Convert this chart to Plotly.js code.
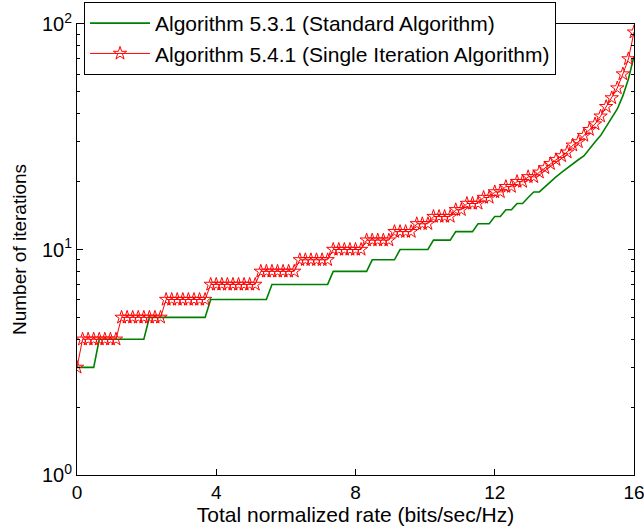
<!DOCTYPE html>
<html>
<head>
<meta charset="utf-8">
<script src="https://cdn.plot.ly/plotly-3.0.1.min.js"></script>
<style>html,body{margin:0;padding:0;background:#fff;}#chart{width:644px;height:531px;}</style>
</head>
<body>
<div id="chart"></div>
<script>
const rate = [0, 0.16, 0.32, 0.48, 0.64, 0.8, 0.96, 1.12, 1.28, 1.44,
  1.6, 1.76, 1.92, 2.08, 2.24, 2.4, 2.56, 2.72, 2.88, 3.04,
  3.2, 3.36, 3.52, 3.68, 3.84, 4.0, 4.16, 4.32, 4.48, 4.64,
  4.8, 4.96, 5.12, 5.28, 5.44, 5.6, 5.76, 5.92, 6.08, 6.24,
  6.4, 6.56, 6.72, 6.88, 7.04, 7.2, 7.36, 7.52, 7.68, 7.84,
  8.0, 8.16, 8.32, 8.48, 8.64, 8.8, 8.96, 9.12, 9.28, 9.44,
  9.6, 9.76, 9.92, 10.08, 10.24, 10.4, 10.56, 10.72, 10.88, 11.04,
  11.2, 11.36, 11.52, 11.68, 11.84, 12.0, 12.16, 12.32, 12.48, 12.64,
  12.8, 12.96, 13.12, 13.28, 13.44, 13.6, 13.76, 13.92, 14.08, 14.24,
  14.4, 14.56, 14.72, 14.88, 15.04, 15.2, 15.36, 15.52, 15.68, 15.84, 16.0];

const standardIters = [3, 3, 3, 3, 4, 4, 4, 4, 4, 4,
  4, 4, 4, 5, 5, 5, 5, 5, 5, 5,
  5, 5, 5, 5, 6, 6, 6, 6, 6, 6,
  6, 6, 6, 6, 6, 7, 7, 7, 7, 7,
  7, 7, 7, 7, 7, 7, 8, 8, 8, 8,
  8, 8, 8, 9, 9, 9, 9, 9, 10, 10,
  10, 10, 10, 10, 11, 11, 11, 11, 12, 12,
  12, 12, 13, 13, 13, 14, 14, 15, 15, 16,
  16, 17, 18, 18, 19, 20, 21, 22, 23, 24,
  25, 26, 28, 30, 32, 35, 38, 42, 48, 57, 72];

const singleIters = [3, 4, 4, 4, 4, 4, 4, 4, 5, 5,
  5, 5, 5, 5, 5, 5, 6, 6, 6, 6,
  6, 6, 6, 6, 7, 7, 7, 7, 7, 7,
  7, 7, 7, 8, 8, 8, 8, 8, 8, 8,
  9, 9, 9, 9, 9, 9, 10, 10, 10, 10,
  10, 10, 11, 11, 11, 11, 11, 12, 12, 12,
  12, 13, 13, 13, 14, 14, 14, 14, 15, 15,
  16, 16, 16, 17, 17, 18, 18, 19, 19, 20,
  20, 21, 21, 22, 23, 24, 25, 26, 27, 29,
  30, 32, 34, 36, 39, 43, 47, 52, 60, 70, 92];

const xTicks = [0, 4, 8, 12, 16];
const yTicks = [1, 10, 100];
const yTickText = ['10<sup>0</sup>', '10<sup>1</sup>', '10<sup>2</sup>'];
const yMinor = [2, 3, 4, 5, 6, 7, 8, 9, 20, 30, 40, 50, 60, 70, 80, 90];

const FONT = '"Liberation Sans", Arial, Helvetica, sans-serif';

const traces = [
  {
    x: rate, y: standardIters, type: 'scatter', mode: 'lines',
    name: 'Algorithm 5.3.1 (Standard Algorithm)',
    line: {color: '#008000', width: 1.6}
  },
  {
    x: rate, y: singleIters, type: 'scatter', mode: 'lines+markers',
    name: 'Algorithm 5.4.1 (Single Iteration Algorithm)',
    line: {color: '#ff0000', width: 1},
    marker: {symbol: 'star-open', size: 10, color: '#ff0000', line: {color: '#ff0000', width: 1}}
  }
];

const layout = {
  width: 644, height: 531,
  margin: {l: 77, r: 10, t: 24, b: 56, autoexpand: false},
  paper_bgcolor: '#ffffff', plot_bgcolor: '#ffffff',
  font: {family: FONT, size: 20, color: '#000'},
  showlegend: true,
  legend: {
    x: 0.0126, y: 1.0488, xanchor: 'left', yanchor: 'top',
    bgcolor: '#ffffff', bordercolor: '#000', borderwidth: 1,
    font: {family: FONT, size: 21, color: '#000'},
    itemwidth: 60,
    tracegroupgap: 0
  },
  xaxis: {
    range: [0, 16], tickmode: 'array', tickvals: xTicks, ticktext: xTicks.map(String),
    ticks: 'inside', ticklen: 6, tickcolor: '#000', showline: true, linecolor: '#000', linewidth: 1,
    mirror: 'ticks', showgrid: false, zeroline: false, automargin: false,
    ticklabeloverflow: 'allow',
    tickfont: {family: FONT, size: 19},
    title: {text: 'Total normalized rate (bits/sec/Hz)', font: {family: FONT, size: 21}, standoff: 4}
  },
  yaxis: {
    type: 'log', range: [0, 2], tickmode: 'array', tickvals: yTicks, ticktext: yTickText,
    ticks: 'inside', ticklen: 6, tickcolor: '#000', showline: true, linecolor: '#000', linewidth: 1,
    mirror: 'ticks', showgrid: false, zeroline: false, automargin: false,
    ticklabeloverflow: 'allow',
    tickfont: {family: FONT, size: 20},
    minor: {tickmode: 'array', tickvals: yMinor, ticks: 'inside', ticklen: 3, tickcolor: '#000', showgrid: false},
    title: {text: 'Number of iterations', font: {family: FONT, size: 19}, standoff: 10}
  }
};

Plotly.newPlot('chart', traces, layout, {displayModeBar: false, staticPlot: true});
</script>
</body>
</html>
